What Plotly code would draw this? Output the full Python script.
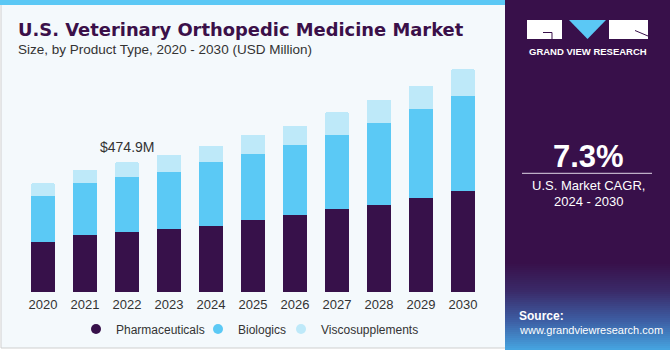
import plotly.graph_objects as go

years = ["2020", "2021", "2022", "2023", "2024", "2025", "2026", "2027", "2028", "2029", "2030"]
pharmaceuticals = [183.1, 209.8, 219.7, 231.8, 242.8, 262.6, 282.0, 302.8, 318.6, 344.2, 371.0]
biologics = [168.5, 190.4, 202.5, 208.7, 233.3, 242.8, 257.4, 273.2, 301.4, 324.8, 347.9]
viscosupplements = [46.5, 47.6, 52.7, 62.3, 58.6, 69.6, 69.6, 82.0, 83.1, 85.3, 96.7]
series_names = ["Pharmaceuticals", "Biologics", "Viscosupplements"]
colors = ["#37114A", "#5BC9F5", "#BEE9F9"]
label_text = "&#36;474.9M"
label_year = "2022"

W, H = 670, 350
L, R, T, B = 22, 186, 60, 58
PW, PH = W - L - R, H - T - B


def px(x):
    return (x - L) / PW


def py(y):
    return (H - B - y) / PH


FONT = "Arial, Liberation Sans, sans-serif"

fig = go.Figure()
for name, vals, col in zip(series_names, [pharmaceuticals, biologics, viscosupplements], colors):
    fig.add_trace(go.Bar(x=years, y=vals, name=name, marker=dict(color=col, line=dict(width=0)),
                         showlegend=False, hoverinfo="skip"))
legend_ids = ["legend", "legend2", "legend3"]
legend_marker_px = [96, 218, 301]
for name, col, lid in zip(series_names, colors, legend_ids):
    fig.add_trace(go.Scatter(x=[None], y=[None], mode="markers", name=name, legend=lid,
                             marker=dict(color=col, size=10, symbol="circle")))

totals = [a + b + c for a, b, c in zip(pharmaceuticals, biologics, viscosupplements)]
idx = years.index(label_year)

shapes = []
# left panel
shapes.append(dict(type="rect", xref="paper", yref="paper", x0=px(1), x1=px(506), y0=py(1), y1=py(348),
                   fillcolor="#F4F9FC", line=dict(color="#CFCFCF", width=1), layer="below"))
shapes.append(dict(type="rect", xref="paper", yref="paper", x0=px(0), x1=px(506), y0=py(0), y1=py(5),
                   fillcolor="#5BC8F5", line=dict(width=0), layer="below"))
# right panel
shapes.append(dict(type="rect", xref="paper", yref="paper", x0=px(505), x1=px(670), y0=py(0), y1=py(350),
                   fillcolor="#38104A", line=dict(width=0), layer="below"))


def hx(c):
    c = c.lstrip("#")
    return [int(c[i:i + 2], 16) for i in (0, 2, 4)]


stops = [(262, "#38104A"), (290, "#3A2A68"), (320, "#3D5EA4"), (350, "#46A8E3")]
y = 262
step = 2
while y < 350:
    for (ya, ca), (yb, cb) in zip(stops[:-1], stops[1:]):
        if ya <= y < yb:
            t = (y - ya) / (yb - ya)
            a, b = hx(ca), hx(cb)
            c = [round(a[i] + (b[i] - a[i]) * t) for i in range(3)]
            break
    shapes.append(dict(type="rect", xref="paper", yref="paper", x0=px(505), x1=px(670), y0=py(y),
                       y1=py(min(y + step + 0.5, 350)),
                       fillcolor="rgb(%d,%d,%d)" % tuple(c), line=dict(width=0), layer="below"))
    y += step

# logo
shapes.append(dict(type="rect", xref="paper", yref="paper", x0=px(527), x1=px(562), y0=py(20), y1=py(39),
                   fillcolor="white", line=dict(width=0), layer="below"))
shapes.append(dict(type="path", xref="paper", yref="paper",
                   path="M %f,%f L %f,%f L %f,%f Z" % (px(569), py(20), px(606), py(20), px(587.5), py(39)),
                   fillcolor="#5BC8F5", line=dict(width=0), layer="below"))
shapes.append(dict(type="rect", xref="paper", yref="paper", x0=px(609), x1=px(648), y0=py(20), y1=py(39),
                   fillcolor="white", line=dict(width=0), layer="below"))
shapes.append(dict(type="path", xref="paper", yref="paper",
                   path="M %f,%f L %f,%f L %f,%f" % (px(543), py(32.5), px(552), py(32.5), px(552), py(39)),
                   line=dict(color="#38104A", width=1), layer="below"))
shapes.append(dict(type="line", xref="paper", yref="paper", x0=px(635), y0=py(30.5), x1=px(648), y1=py(36),
                   line=dict(color="#38104A", width=1), layer="below"))
# CAGR rule
shapes.append(dict(type="line", xref="paper", yref="paper", x0=px(522), x1=px(652), y0=py(173.3), y1=py(173.3),
                   line=dict(color="#E0D8E6", width=1), layer="above"))

annotations = [
    dict(text="<b>U.S. Veterinary Orthopedic Medicine Market</b>", x=px(16), y=py(29), xanchor="left",
         yanchor="middle", font=dict(size=17.9, color="#3B1049", family="DejaVu Sans, Arial, sans-serif")),
    dict(text="Size, by Product Type, 2020 - 2030 (USD Million)", x=px(16), y=py(50), xanchor="left",
         yanchor="middle", font=dict(size=13.5, color="#333333", family=FONT)),
    dict(text=label_text, x=idx, y=totals[idx], xref="x", yref="y", yanchor="bottom", yshift=5,
         showarrow=False, font=dict(size=14, color="#333333", family=FONT)),
    dict(text="<b>GRAND VIEW RESEARCH</b>", x=px(587.5), y=py(51), xanchor="center", yanchor="middle",
         font=dict(size=9.5, color="white", family=FONT)),
    dict(text="<b>7.3%</b>", x=px(588), y=py(156), xanchor="center", yanchor="middle",
         font=dict(size=31, color="white", family=FONT)),
    dict(text="U.S. Market CAGR,", x=px(588), y=py(185), xanchor="center", yanchor="middle",
         font=dict(size=13, color="white", family=FONT)),
    dict(text="2024 - 2030", x=px(588), y=py(201.5), xanchor="center", yanchor="middle",
         font=dict(size=13, color="white", family=FONT)),
    dict(text="<b>Source:</b>", x=px(517), y=py(315.5), xanchor="left", yanchor="middle",
         font=dict(size=12, color="white", family=FONT)),
    dict(text="www.grandviewresearch.com", x=px(517), y=py(330), xanchor="left", yanchor="middle",
         font=dict(size=11, color="white", family=FONT)),
]
for a in annotations:
    a.setdefault("xref", "paper")
    a.setdefault("yref", "paper")
    a.setdefault("showarrow", False)

legends = {}
for lid, mx in zip(legend_ids, legend_marker_px):
    legends[lid] = dict(orientation="h", x=px(mx - 20), y=py(329), xanchor="left", yanchor="middle",
                        font=dict(size=12, color="#333333", family=FONT), bgcolor="rgba(0,0,0,0)",
                        itemwidth=30, borderwidth=0)

fig.update_layout(
    width=W, height=H, margin=dict(l=L, r=R, t=T, b=B, autoexpand=False),
    paper_bgcolor="white", plot_bgcolor="rgba(0,0,0,0)",
    barmode="stack", bargap=0.42, barcornerradius=2,
    xaxis=dict(type="category", showgrid=False, zeroline=False, showline=False, ticks="",
               tickfont=dict(size=13, color="#333333", family=FONT), range=[-0.5, 10.5],
               ticklabelstandoff=3, automargin=False),
    yaxis=dict(visible=False, range=[0, PH * 474.9 / 129.7]),
    shapes=shapes, annotations=annotations, showlegend=True,
    **legends,
)
fig.write_html("out.html")
